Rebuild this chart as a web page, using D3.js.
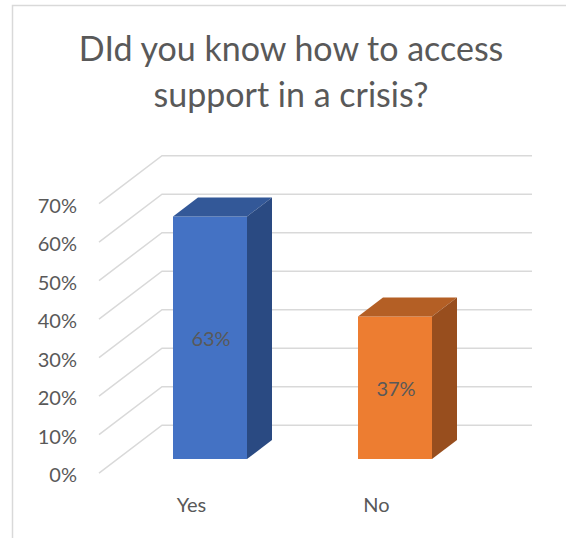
<!DOCTYPE html>
<meta charset="utf-8">
<head>
    <title>Crisis support</title>
</head>

<style>

body {
  margin: 0;
  background: #fff;
}

text {
  font-family: Lato, "Open Sans", sans-serif;
  fill: #595959;
}

.grid path {
  fill: none;
  stroke: #d9d9d9;
  stroke-width: 1.5px;
}

.axis text {
  font-size: 20px;
}

</style>
<body>
<script src="https://cdn.jsdelivr.net/npm/d3@7"></script>
<script>

var categories = ["Yes", "No"];
var values = [0.63, 0.37];
var labels = ["63%", "37%"];
var tickValues = [0, 0.1, 0.2, 0.3, 0.4, 0.5, 0.6, 0.7];
var titleLines = ["DId you know how to access", "support in a crisis?"];

var colorFront = ["#4472c4", "#ed7d31"],
    colorTop = ["#335898", "#b45f25"],
    colorSide = ["#2a4a82", "#984e1e"];

var W = 566, H = 538;

// front plane of the bars
var x = d3.scaleBand()
    .domain(categories)
    .range([117.5, 487.5])
    .paddingInner(0.6)
    .paddingOuter(0.3);

var y = d3.scaleLinear()
    .domain([0, 0.7])
    .range([459, 459 - 0.7 * 385]);

// depth offsets (dx, dy = -0.76 * dx)
var slope = 0.76,
    dFloor = -18.5,  // front edge of floor
    dBar = 25,       // bar depth
    dWall = 44.5;    // back wall

function px(xv, d) { return xv + d; }
function py(yv, d) { return yv - slope * d; }

var svg = d3.select("body").append("svg")
    .attr("width", W)
    .attr("height", H);

// chart frame
svg.append("rect")
    .attr("x", 12.5)
    .attr("y", 5.5)
    .attr("width", 700)
    .attr("height", 700)
    .style("fill", "none")
    .style("stroke", "#d9d9d9")
    .style("stroke-width", 1.5);

// title
svg.append("g").selectAll("text")
    .data(titleLines)
  .enter().append("text")
    .attr("x", 291)
    .attr("y", function(d, i) { return 61 + i * 46; })
    .attr("text-anchor", "middle")
    .style("font-size", "34px")
    .text(function(d) { return d; });

var x0 = x.range()[0], x1 = x.range()[1];

// gridlines: floor diagonal + back wall
svg.append("g")
    .attr("class", "grid")
  .selectAll("path")
    .data(tickValues)
  .enter().append("path")
    .attr("d", function(t) {
      var p = d3.path();
      p.moveTo(px(x0, dFloor), py(y(t), dFloor));
      p.lineTo(px(x0, dWall), py(y(t), dWall));
      p.lineTo(px(x1, dWall), py(y(t), dWall));
      return p.toString();
    });

// y tick labels
svg.append("g")
    .attr("class", "axis axis--y")
  .selectAll("text")
    .data(tickValues)
  .enter().append("text")
    .attr("x", 77)
    .attr("y", function(t) { return py(y(t), dFloor) + 2; })
    .attr("dy", "0.35em")
    .attr("text-anchor", "end")
    .text(d3.format(".0%"));

// bars
var bars = svg.append("g").selectAll("g")
    .data(categories)
  .enter().append("g");

function poly(pts) {
  return "M" + pts.map(function(p) { return p.join(","); }).join("L") + "Z";
}

bars.append("path")
    .style("fill", function(d, i) { return colorFront[i]; })
    .attr("d", function(d, i) {
      var a = x(d), b = x(d) + x.bandwidth(), top = y(values[i]), bot = y(0);
      return poly([[a, top], [b, top], [b, bot], [a, bot]]);
    });

bars.append("path")
    .style("fill", function(d, i) { return colorTop[i]; })
    .attr("d", function(d, i) {
      var a = x(d), b = x(d) + x.bandwidth(), top = y(values[i]);
      return poly([[a, top], [b, top], [px(b, dBar), py(top, dBar)], [px(a, dBar), py(top, dBar)]]);
    });

bars.append("path")
    .style("fill", function(d, i) { return colorSide[i]; })
    .attr("d", function(d, i) {
      var b = x(d) + x.bandwidth(), top = y(values[i]), bot = y(0);
      return poly([[b, top], [px(b, dBar), py(top, dBar)], [px(b, dBar), py(bot, dBar)], [b, bot]]);
    });

// data labels
bars.append("text")
    .attr("x", function(d) { return x(d) + x.bandwidth() / 2 + 1; })
    .attr("y", function(d, i) { return (y(values[i]) + y(0)) / 2 + 1; })
    .attr("dy", "0.35em")
    .attr("text-anchor", "middle")
    .style("font-size", "20px")
    .text(function(d, i) { return labels[i]; });

// category labels
svg.append("g")
    .attr("class", "axis axis--x")
  .selectAll("text")
    .data(categories)
  .enter().append("text")
    .attr("x", function(d) { return px(x(d) + x.bandwidth() / 2, dFloor); })
    .attr("y", 512)
    .attr("text-anchor", "middle")
    .text(function(d) { return d; });

</script>
